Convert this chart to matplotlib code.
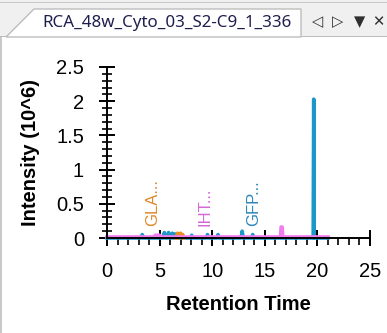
import matplotlib.pyplot as plt
from matplotlib.patches import Polygon, Rectangle
from matplotlib.ticker import MultipleLocator

plt.rcParams['font.family'] = ['Liberation Sans', 'DejaVu Sans']

tab_title = "RCA_48w_Cyto_03_S2-C9_1_336"

# chromatogram traces (retention time in min, intensity in 10^6)
blue_rt = [0.0, 3.25, 3.35, 3.45, 5.35, 5.45, 5.55, 5.75, 5.85, 5.95, 6.1, 6.2, 6.3,
           6.35, 6.45, 6.55, 7.95, 8.05, 8.15, 9.45, 9.55, 9.65, 10.45, 10.55, 10.65,
           12.75, 12.85, 12.95, 13.75, 13.85, 13.95, 19.6, 19.65, 19.7, 21.0]
blue_int = [0.0, 0.0, 0.05, 0.0, 0.0, 0.08, 0.0, 0.0, 0.08, 0.0, 0.0, 0.07, 0.0,
            0.0, 0.06, 0.0, 0.0, 0.04, 0.0, 0.0, 0.05, 0.0, 0.0, 0.05, 0.0,
            0.0, 0.1, 0.0, 0.0, 0.05, 0.0, 0.0, 2.03, 0.0, 0.0]

orange_rt = [6.6, 6.7, 6.8, 6.9, 7.0, 7.1, 7.2, 7.3]
orange_int = [0.0, 0.07, 0.02, 0.0, 0.07, 0.02, 0.05, 0.0]

pink_rt = [0.0, 4.4, 4.6, 5.0, 5.2, 16.5, 16.55, 16.65, 16.7, 21.0]
pink_int = [0.015, 0.015, 0.04, 0.04, 0.015, 0.015, 0.16, 0.16, 0.015, 0.015]

peak_names = ["GLA...", "IHT...", "GFP..."]
peak_rt = [4.3, 9.3, 13.9]
peak_colors = ['#e0892a', '#d46ad4', '#2d86b8']

fig = plt.figure(figsize=(3.87, 3.33), dpi=100)
W, H = 387.0, 333.0


def px(x, y):
    return (x / W, 1 - y / H)


# window frame and tab strip
fig.add_artist(Rectangle(px(0, 37), 1, 37 / H, facecolor='#f0f0f0', edgecolor='none',
                         transform=fig.transFigure))
fig.add_artist(Polygon([px(6, 37), px(34, 9), px(301, 9), px(301, 37)], closed=True,
                       facecolor='white', edgecolor='#bdbdbd', lw=1, transform=fig.transFigure))
fig.add_artist(Rectangle(px(0, 37), 6 / W, 1 / H, facecolor='#bdbdbd', edgecolor='none',
                         transform=fig.transFigure))
fig.add_artist(Rectangle(px(301, 37), 86 / W, 1 / H, facecolor='#bdbdbd', edgecolor='none',
                         transform=fig.transFigure))
fig.add_artist(Rectangle(px(0, 3), 1, 1 / H, facecolor='#c8c8c8', edgecolor='none',
                         transform=fig.transFigure))
fig.add_artist(Rectangle(px(0, 333), 2 / W, 296 / H, facecolor='#c8c8c8', edgecolor='none',
                         transform=fig.transFigure))
fig.text(*px(42, 23), tab_title, fontsize=12.2, color='#1f1f4f', va='center', ha='left',
         family=['Noto Sans', 'DejaVu Sans'])
for xx, sym in [(318, '◁'), (338, '▷'), (360, '▼'), (378, '✕')]:
    fig.text(*px(xx, 22), sym, fontsize=10.5, color='#303030', va='center', ha='center',
             family='DejaVu Sans', fontweight='bold')

ax = fig.add_axes([107 / W, 95 / H, 263 / W, 171 / H])
ax.plot(blue_rt, blue_int, color='#1c97c9', lw=2.6, solid_joinstyle='round', clip_on=False)
ax.plot(orange_rt, orange_int, color='#e8901f', lw=2.6, solid_joinstyle='round', clip_on=False)
ax.plot(pink_rt, pink_int, color='#f07cf0', lw=2.6, clip_on=False)

for name, rt, col in zip(peak_names, peak_rt, peak_colors):
    ax.text(rt, 0.18, name, rotation=90, color=col, fontsize=12, ha='center', va='bottom')

ax.set_xlim(0, 25)
ax.set_ylim(0, 2.5)
ax.xaxis.set_major_locator(MultipleLocator(5))
ax.xaxis.set_minor_locator(MultipleLocator(1))
ax.yaxis.set_major_locator(MultipleLocator(0.5))
ax.yaxis.set_minor_locator(MultipleLocator(0.1))
ax.set_yticks([0, 0.5, 1, 1.5, 2, 2.5])
ax.set_yticklabels(['0', '0.5', '1', '1.5', '2', '2.5'])

for side in ['top', 'right']:
    ax.spines[side].set_visible(False)
for side in ['left', 'bottom']:
    ax.spines[side].set_linewidth(1.4)

ax.tick_params(axis='x', which='major', direction='inout', length=11, width=1.4,
               labelsize=14.5, pad=12)
ax.tick_params(axis='x', which='minor', direction='out', length=5, width=1.2)
ax.tick_params(axis='y', which='major', direction='inout', length=11, width=1.4,
               labelsize=14.5, pad=11)
ax.tick_params(axis='y', which='minor', direction='inout', length=7, width=1.2)

ax.set_xlabel("Retention Time", fontsize=14.5, fontweight='bold', labelpad=10)
ax.set_ylabel("Intensity (10^6)", fontsize=14.5, fontweight='bold', labelpad=12)

fig.savefig('out.png', dpi=100)
